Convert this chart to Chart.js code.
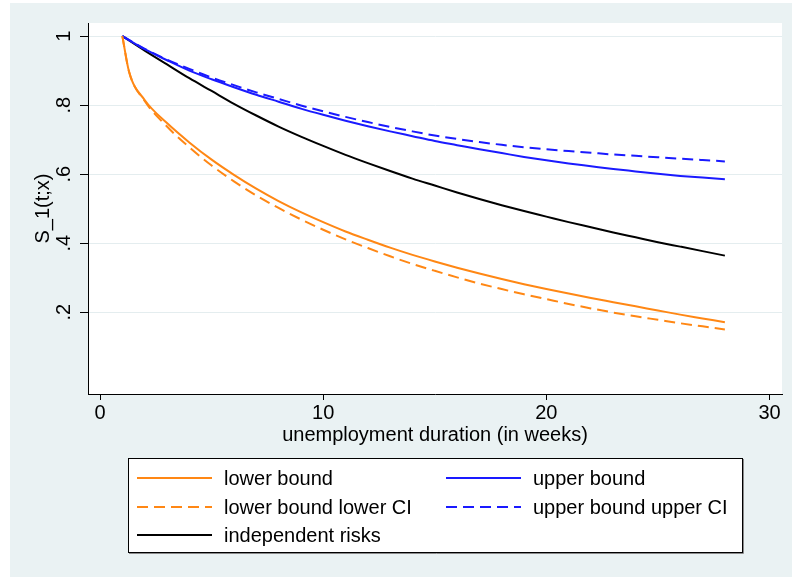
<!DOCTYPE html>
<html>
<head>
<meta charset="utf-8">
<script src="https://cdn.jsdelivr.net/npm/chart.js@4.4.1/dist/chart.umd.min.js"></script>
<style>
  html, body { margin: 0; padding: 0; background: #fff; overflow: hidden; }
  #wrap { width: 792px; height: 577px; }
</style>
</head>
<body>
<div id="wrap"><canvas id="c" width="792" height="577"></canvas></div>
<script>
// Unemployment duration in weeks
const weeks = [1, 2, 3, 4, 5, 6, 7, 8, 9, 10, 11, 12, 13, 14, 15, 16, 17, 18, 19, 20,
               21, 22, 23, 24, 25, 26, 27, 28];
const weeksLower = [1, 1.3, 2, 3, 4, 5, 6, 7, 8, 9, 10, 11, 12, 13, 14, 15, 16, 17, 18, 19, 20,
                    21, 22, 23, 24, 25, 26, 27, 28];

// Survival function S_1(t;x) bounds
const lowerBound = [1.0, 0.897, 0.815, 0.748, 0.692, 0.642, 0.598, 0.558, 0.522, 0.49, 0.461,
                    0.434, 0.41, 0.387, 0.366, 0.347, 0.329, 0.312, 0.296, 0.281, 0.267,
                    0.254, 0.241, 0.229, 0.217, 0.205, 0.193, 0.182, 0.171];
const lowerBoundLowerCI = [1.0, 0.897, 0.812, 0.738, 0.678, 0.625, 0.579, 0.538, 0.502, 0.469, 0.439,
                           0.411, 0.386, 0.362, 0.34, 0.32, 0.301, 0.283, 0.267, 0.252, 0.238,
                           0.224, 0.211, 0.199, 0.188, 0.178, 0.168, 0.159, 0.15];
const upperBound = [1.0, 0.962, 0.93, 0.9, 0.875, 0.852, 0.83, 0.81, 0.79, 0.772,
                    0.755, 0.739, 0.724, 0.71, 0.696, 0.684, 0.672, 0.661, 0.65, 0.64,
                    0.631, 0.623, 0.615, 0.608, 0.601, 0.595, 0.59, 0.585];
const upperBoundUpperCI = [1.0, 0.963, 0.932, 0.905, 0.88, 0.858, 0.837, 0.818, 0.799, 0.782,
                           0.766, 0.751, 0.737, 0.724, 0.712, 0.702, 0.693, 0.685, 0.678, 0.672,
                           0.667, 0.662, 0.657, 0.653, 0.649, 0.645, 0.641, 0.637];
const independentRisks = [1.0, 0.958, 0.918, 0.878, 0.841, 0.804, 0.77, 0.738, 0.709, 0.682,
                          0.656, 0.632, 0.609, 0.587, 0.567, 0.547, 0.528, 0.51, 0.493, 0.477,
                          0.461, 0.446, 0.431, 0.417, 0.403, 0.39, 0.377, 0.364];

const xTicks = [0, 10, 20, 30];
const yTicks = [0.2, 0.4, 0.6, 0.8, 1];
const yTickLabels = ['.2', '.4', '.6', '.8', '1'];

const FONT = '"Liberation Sans", Arial, Helvetica, sans-serif';
const PANEL = '#EAF2F3';
const GRID = '#E4EDEF';
const ORANGE = 'rgb(255,135,20)';
const BLUE = 'rgb(26,26,255)';
const DASH = [11, 6];

const pts = (xs, ys) => xs.map((x, i) => ({ x, y: ys[i] }));

// Panel, white plot region
const panelPlugin = {
  id: 'panel',
  beforeDraw(chart) {
    const { ctx, chartArea: a, width, height } = chart;
    ctx.save();
    ctx.fillStyle = '#fff';
    ctx.fillRect(0, 0, width, height);
    ctx.fillStyle = PANEL;
    ctx.fillRect(10, 3, width - 10, height - 3);
    ctx.fillStyle = '#fff';
    ctx.fillRect(a.left, a.top, a.right - a.left, a.bottom - a.top);
    ctx.restore();
  }
};

// Rotated y tick labels placed on the y scale
const yLabelPlugin = {
  id: 'yLabels',
  afterDraw(chart) {
    const s = chart.scales.y;
    const ctx = chart.ctx;
    ctx.save();
    ctx.font = '20px ' + FONT;
    ctx.fillStyle = '#000';
    ctx.textAlign = 'center';
    ctx.textBaseline = 'alphabetic';
    yTicks.forEach((v, i) => {
      ctx.save();
      ctx.translate(69.5, s.getPixelForValue(v));
      ctx.rotate(-Math.PI / 2);
      ctx.fillText(yTickLabels[i], 0, 0);
      ctx.restore();
    });
    ctx.restore();
  }
};

// Two-column boxed legend below the plot
const legendItems = [
  { ds: 0, col: 0, row: 0 },
  { ds: 1, col: 1, row: 0 },
  { ds: 2, col: 0, row: 1 },
  { ds: 3, col: 1, row: 1 },
  { ds: 4, col: 0, row: 2 }
];
const legendPlugin = {
  id: 'boxLegend',
  afterDraw(chart) {
    const ctx = chart.ctx;
    const box = { x: 128, y: 458, w: 614, h: 94 };
    const rowY = [478, 507, 535];
    const colLine = [[137, 212], [446, 521]];
    const colText = [224, 533];
    ctx.save();
    ctx.fillStyle = '#fff';
    ctx.fillRect(box.x, box.y, box.w, box.h);
    ctx.strokeStyle = '#8a8a8a';
    ctx.lineWidth = 1;
    ctx.beginPath();
    ctx.moveTo(box.x + box.w + 1.5, box.y + 1);
    ctx.lineTo(box.x + box.w + 1.5, box.y + box.h + 1.5);
    ctx.lineTo(box.x + 1, box.y + box.h + 1.5);
    ctx.stroke();
    ctx.strokeStyle = '#000';
    ctx.strokeRect(box.x + 0.5, box.y + 0.5, box.w, box.h);
    ctx.font = '20px ' + FONT;
    ctx.fillStyle = '#000';
    ctx.textAlign = 'left';
    ctx.textBaseline = 'middle';
    legendItems.forEach(it => {
      const d = chart.data.datasets[it.ds];
      const y = rowY[it.row];
      const [x0, x1] = colLine[it.col];
      ctx.save();
      ctx.strokeStyle = d.borderColor;
      ctx.lineWidth = d.borderWidth;
      ctx.setLineDash(d.borderDash || []);
      ctx.beginPath();
      ctx.moveTo(x0, y);
      ctx.lineTo(x1, y);
      ctx.stroke();
      ctx.restore();
      ctx.fillText(d.label, colText[it.col], y + 1);
    });
    ctx.restore();
  }
};

new Chart(document.getElementById('c'), {
  type: 'line',
  data: {
    datasets: [
      { label: 'lower bound', data: pts(weeksLower, lowerBound), borderColor: ORANGE, borderWidth: 2 },
      { label: 'upper bound', data: pts(weeks, upperBound), borderColor: BLUE, borderWidth: 2 },
      { label: 'lower bound lower CI', data: pts(weeksLower, lowerBoundLowerCI), borderColor: ORANGE, borderWidth: 2, borderDash: DASH },
      { label: 'upper bound upper CI', data: pts(weeks, upperBoundUpperCI), borderColor: BLUE, borderWidth: 2, borderDash: DASH },
      { label: 'independent risks', data: pts(weeks, independentRisks), borderColor: '#000', borderWidth: 2 }
    ]
  },
  options: {
    responsive: false,
    animation: false,
    devicePixelRatio: 1,
    layout: { padding: { top: 23, right: 10, left: 0, bottom: 0 } },
    plugins: { legend: { display: false }, tooltip: { enabled: false } },
    elements: {
      point: { radius: 0 },
      line: { cubicInterpolationMode: 'monotone', fill: false }
    },
    scales: {
      x: {
        type: 'linear',
        min: -0.54,
        max: 30.56,
        afterBuildTicks: s => { s.ticks = xTicks.map(v => ({ value: v })); },
        afterFit: s => { s.height = 183; },
        grid: { drawOnChartArea: false, drawTicks: true, tickLength: 6, tickColor: '#000', color: '#000' },
        border: { display: true, color: '#000', width: 1 },
        ticks: { color: '#000', font: { family: FONT, size: 20 }, padding: 1, maxRotation: 0, autoSkip: false },
        title: {
          display: true, text: 'unemployment duration (in weeks)', color: '#000',
          font: { family: FONT, size: 20 }, padding: { top: 0, bottom: 129.5 }
        }
      },
      y: {
        type: 'linear',
        min: -0.037,
        max: 1.038,
        afterBuildTicks: s => { s.ticks = yTicks.map(v => ({ value: v })); },
        afterFit: s => { s.width = 88; },
        grid: { color: GRID, tickColor: '#000', tickLength: 8, drawOnChartArea: true },
        border: { display: true, color: '#000', width: 1 },
        ticks: { display: false },
        title: {
          display: true, text: 'S_1(t;x)', color: '#000',
          font: { family: FONT, size: 20 }, padding: { top: 31, bottom: 0 }
        }
      }
    }
  },
  plugins: [panelPlugin, yLabelPlugin, legendPlugin]
});
</script>
</body>
</html>
